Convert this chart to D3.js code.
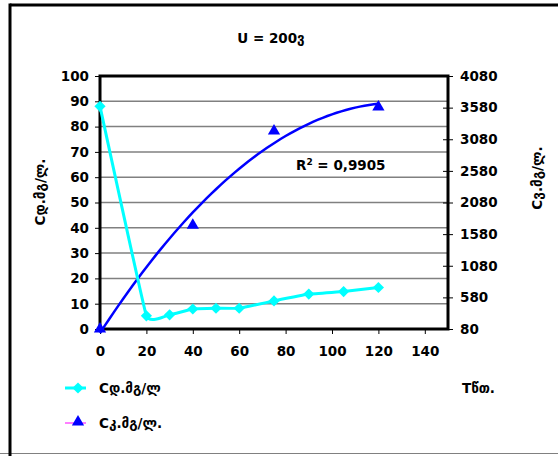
<!DOCTYPE html>
<html>
<head>
<meta charset="utf-8">
<script src="https://d3js.org/d3.v7.min.js"></script>
<style>
body { margin:0; background:#fff; }
svg text { font-family: 'DejaVu Sans', 'Liberation Sans', Arial, sans-serif; font-weight:bold; fill:#000; }
</style>
</head>
<body>
<div id="chart"></div>
<script>
// data
var timeMin = [0, 20, 30, 40, 50, 60, 75, 90, 105, 120];
var cD = [88, 5.2, 5.6, 7.9, 8.2, 8.2, 11.1, 13.8, 14.8, 16.4];
var timeK = [0, 40, 75, 120];
var cK = [80, 1720, 3210, 3590];
var xTicks = [0, 20, 40, 60, 80, 100, 120, 140];
var leftTicks = [0, 10, 20, 30, 40, 50, 60, 70, 80, 90, 100];
var rightTicks = [80, 580, 1080, 1580, 2080, 2580, 3080, 3580, 4080];

var W = 558, H = 456, FS = '13.5px';
var svg = d3.select('#chart').append('svg').attr('width', W).attr('height', H);

// outer frame
svg.append('line').attr('x1', 0).attr('x2', W).attr('y1', H - 2.5).attr('y2', H - 2.5)
    .attr('stroke', '#808080').attr('stroke-width', 1);
svg.append('line').attr('x1', 10).attr('x2', W).attr('y1', 5).attr('y2', 5)
    .attr('stroke', '#000').attr('stroke-width', 3);
svg.append('line').attr('x1', 10).attr('x2', 10).attr('y1', 3.5).attr('y2', H)
    .attr('stroke', '#000').attr('stroke-width', 3);

var pLeft = 100, pRight = 448, pTop = 76, pBottom = 329;
var x = d3.scaleLinear().domain([0, 150]).range([pLeft, pRight]);
var y = d3.scaleLinear().domain([0, 100]).range([pBottom, pTop]);
var y2 = d3.scaleLinear().domain([80, 4080]).range([pBottom, pTop]);

// gridlines
svg.append('g').selectAll('line').data(leftTicks.slice(1, -1)).enter().append('line')
    .attr('x1', pLeft).attr('x2', pRight)
    .attr('y1', function(d){ return y(d); }).attr('y2', function(d){ return y(d); })
    .attr('stroke', '#808080').attr('stroke-width', 1.5);

// axes
var gL = svg.append('g').attr('transform', 'translate(' + pLeft + ',0)')
    .call(d3.axisLeft(y).tickValues(leftTicks).tickSize(5).tickPadding(6));
var gR = svg.append('g').attr('transform', 'translate(' + pRight + ',0)')
    .call(d3.axisRight(y2).tickValues(rightTicks).tickFormat(d3.format('d')).tickSize(5).tickPadding(7));
gR.selectAll('.tick line').attr('x1', -5);
var gB = svg.append('g').attr('transform', 'translate(0,' + pBottom + ')')
    .call(d3.axisBottom(x).tickValues(xTicks).tickSize(5).tickPadding(12));
[gL, gR, gB].forEach(function(g){
    g.select('.domain').remove();
    g.attr('font-family', null).attr('font-size', null);
    g.selectAll('.tick line').attr('stroke', '#000').attr('stroke-width', 1);
    g.selectAll('.tick text').style('font-size', FS).style('font-weight', 'bold');
});

// plot border
svg.append('rect').attr('x', pLeft).attr('y', pTop)
    .attr('width', pRight - pLeft).attr('height', pBottom - pTop)
    .attr('fill', 'none').attr('stroke', '#000').attr('stroke-width', 3);

// polynomial (order 2) trendline for the second series
function polyFit(xs, ys) {
    var n = xs.length, s = [0,0,0,0,0], t = [0,0,0];
    for (var i = 0; i < n; i++) {
        for (var k = 0; k < 5; k++) s[k] += Math.pow(xs[i], k);
        for (var k = 0; k < 3; k++) t[k] += ys[i] * Math.pow(xs[i], k);
    }
    var A = [[s[0], s[1], s[2], t[0]], [s[1], s[2], s[3], t[1]], [s[2], s[3], s[4], t[2]]];
    for (var c = 0; c < 3; c++) {
        for (var r = c + 1; r < 3; r++) {
            var f = A[r][c] / A[c][c];
            for (var j = c; j < 4; j++) A[r][j] -= f * A[c][j];
        }
    }
    var b = [0,0,0];
    for (var r = 2; r >= 0; r--) {
        var v = A[r][3];
        for (var j = r + 1; j < 3; j++) v -= A[r][j] * b[j];
        b[r] = v / A[r][r];
    }
    return b;
}
var coef = polyFit(timeK, cK);
var trend = d3.range(0, 120.5, 2).map(function(t){
    return [t, coef[0] + coef[1] * t + coef[2] * t * t];
});
svg.append('path').datum(trend)
    .attr('d', d3.line().x(function(d){ return x(d[0]); }).y(function(d){ return y2(d[1]); }))
    .attr('fill', 'none').attr('stroke', '#0000ff').attr('stroke-width', 2.5);

// cyan series (smoothed line)
var dData = timeMin.map(function(t, i){ return [t, cD[i]]; });
svg.append('path').datum(dData)
    .attr('d', d3.line().curve(d3.curveCardinal.tension(0.75)).x(function(d){ return x(d[0]); }).y(function(d){ return y(d[1]); }))
    .attr('fill', 'none').attr('stroke', '#00ffff').attr('stroke-width', 3);
var diamond = d3.symbol().type(d3.symbolDiamond2).size(80);
svg.append('g').selectAll('path').data(dData).enter().append('path')
    .attr('d', diamond)
    .attr('transform', function(d){ return 'translate(' + x(d[0]) + ',' + y(d[1]) + ')'; })
    .attr('fill', '#00ffff');

// blue triangles
var tri = d3.symbol().type(d3.symbolTriangle).size(65);
svg.append('g').selectAll('path').data(timeK).enter().append('path')
    .attr('d', tri)
    .attr('transform', function(d, i){ return 'translate(' + x(d) + ',' + y2(cK[i]) + ')'; })
    .attr('fill', '#0000ff');

svg.append('text').attr('x', 296).attr('y', 170).style('font-size', FS)
    .html('R<tspan dy="-5" style="font-size:9px">2</tspan><tspan dy="5"> = 0,9905</tspan>');

// titles
svg.append('text').attr('x', 271).attr('y', 43).attr('text-anchor', 'middle')
    .style('font-size', FS).text('U = 200ვ');
svg.append('text').attr('transform', 'translate(45,192) rotate(-90)').attr('text-anchor', 'middle')
    .style('font-size', FS).text('Cდ.მგ/ლ.');
svg.append('text').attr('transform', 'translate(542,178) rotate(-90)').attr('text-anchor', 'middle')
    .style('font-size', FS).text('Cვ.მგ/ლ.');
svg.append('text').attr('x', 462).attr('y', 393).style('font-size', FS).text('Tწთ.');

// legend
var lg = svg.append('g');
lg.append('line').attr('x1', 65).attr('x2', 86).attr('y1', 388).attr('y2', 388)
    .attr('stroke', '#00ffff').attr('stroke-width', 3);
lg.append('path').attr('d', diamond).attr('transform', 'translate(78,388)').attr('fill', '#00ffff');
lg.append('text').attr('x', 99).attr('y', 393).style('font-size', FS).text('Cდ.მგ/ლ');
lg.append('line').attr('x1', 65).attr('x2', 86).attr('y1', 423).attr('y2', 423)
    .attr('stroke', '#ff00ff').attr('stroke-width', 1);
lg.append('path').attr('d', tri).attr('transform', 'translate(78,422)').attr('fill', '#0000ff');
lg.append('text').attr('x', 99).attr('y', 428).style('font-size', FS).text('Cკ.მგ/ლ.');
</script>
</body>
</html>
